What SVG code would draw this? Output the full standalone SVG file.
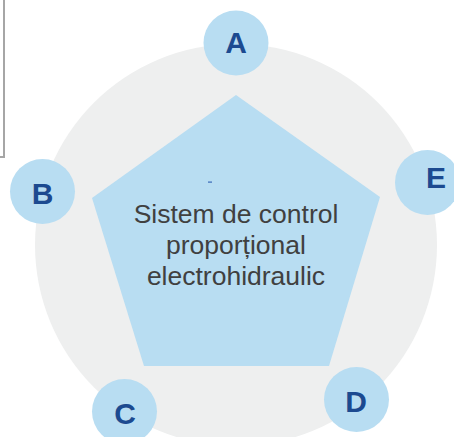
<svg xmlns="http://www.w3.org/2000/svg" width="454" height="437" viewBox="0 0 454 437">
<style>
.bg{fill:#eeefef}
.node{fill:#b8ddf2}
.lbl{font-family:"Liberation Sans",Arial,sans-serif;font-weight:bold;font-size:30px;fill:#1c4a90;text-anchor:middle}
.txt{font-family:"Liberation Sans",Arial,sans-serif;font-size:26.5px;fill:#404040;text-anchor:middle}
</style>
<rect width="454" height="437" fill="#ffffff"/>
<polyline points="4,0 4,157 0,157" fill="none" stroke="#a6a6a6" stroke-width="2"/>
<circle class="bg" cx="236" cy="245" r="201"/>
<g id="center">
<polygon class="node" points="236,95 380,197 329,366 144,366 92,198"/>
<rect x="208" y="181.5" width="4" height="1.2" fill="#3a6ab8"/>
<text class="txt" x="236" y="223">Sistem de control</text>
<text class="txt" x="236" y="254">proporțional</text>
<text class="txt" x="236" y="285">electrohidraulic</text>
</g>
<g id="nodeA"><circle class="node" cx="236" cy="43" r="32.5"/><text class="lbl" x="236" y="53">A</text></g>
<g id="nodeB"><circle class="node" cx="42.5" cy="191.5" r="32.5"/><text class="lbl" x="42.5" y="204">B</text></g>
<g id="nodeE"><circle class="node" cx="427.5" cy="182.5" r="32.5"/><text class="lbl" x="436" y="188">E</text></g>
<g id="nodeC"><circle class="node" cx="124.5" cy="411.5" r="32.5"/><text class="lbl" x="125" y="423.5">C</text></g>
<g id="nodeD"><circle class="node" cx="356.5" cy="399.5" r="32.5"/><text class="lbl" x="356" y="411.5">D</text></g>
<g id="connectors"></g>
</svg>
